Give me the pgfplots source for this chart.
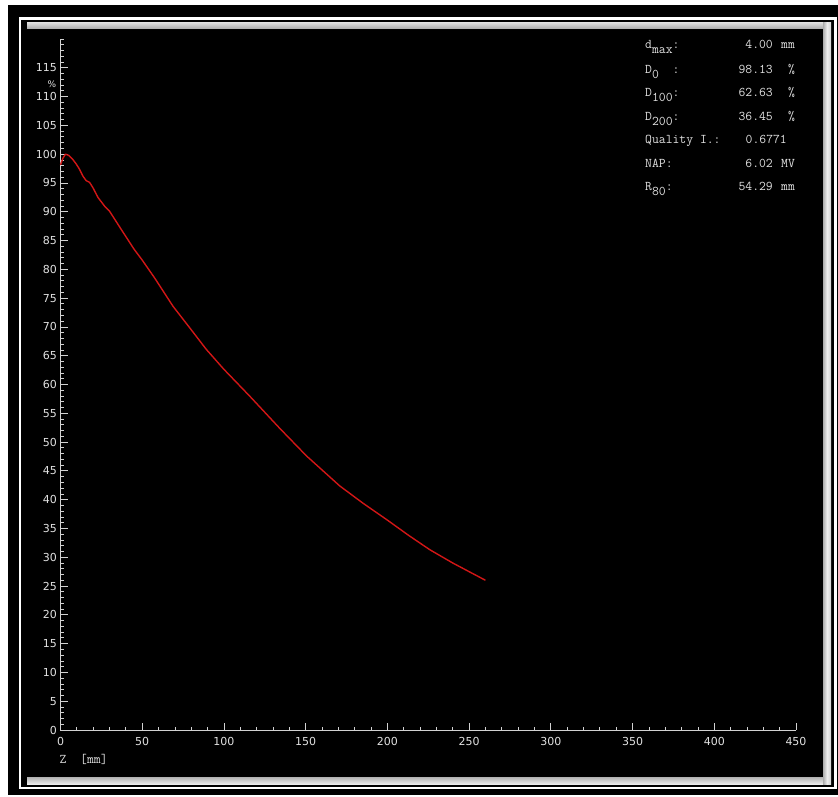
\documentclass[border=0pt]{standalone}
\usepackage{fontspec}
\usepackage{pgfplots}
\pgfplotsset{compat=1.18}
\newfontfamily\tickfont{DejaVu Sans}
\definecolor{txt}{RGB}{225,225,225}
\definecolor{ax}{RGB}{210,210,210}
\definecolor{curve}{RGB}{210,22,22}
\newcommand{\mono}{\ttfamily\fontsize{13.3}{15}\selectfont}
\begin{document}
\begin{tikzpicture}[x=1pt,y=1pt]
\useasboundingbox (0,0) rectangle (838,-797);
\fill[white] (0,0) rectangle (838,-797);
\fill[black] (8,-5) rectangle (838,-795);
\draw[white,line width=2.5pt] (20,-18.5) rectangle (835.5,-788);
\shade[top color=gray!30, bottom color=gray!65] (27,-23) rectangle (830,-28.5);
\shade[top color=gray!60, bottom color=gray!12] (27,-777) rectangle (823,-784.5);
\shade[left color=gray!65, right color=gray!35, middle color=gray!15] (823,-23) rectangle (831,-784.5);
\begin{axis}[
  at={(60.5pt,-730pt)}, anchor=south west,
  scale only axis, width=735.5pt, height=691pt,
  xmin=0, xmax=450, ymin=0, ymax=120,
  axis lines=left, axis line style={-, ax, line width=0.8pt},
  xtick={0,50,...,450}, ytick={0,5,...,115},
  minor xtick={0,10,...,450}, minor ytick={0,1,...,120},
  tick align=inside, major tick length=7pt, minor tick length=3.5pt,
  every tick/.style={ax, line width=0.8pt},
  ticklabel style={font=\tickfont\fontsize{11}{12}\selectfont, text=txt},
  /pgf/number format/assume math mode=true,
  xticklabel style={yshift=-4pt},
  clip=false,
]
\addplot[curve, line width=1.4pt, line join=round] coordinates {
(0,98.13) (1.5,99.3) (3,100) (5,99.8) (7.5,99.1) (9.6,98.3) (11.6,97.4)
(13.7,96.2) (15.7,95.4) (17.8,95.1) (19.8,94.2) (22.9,92.5) (26.9,91.0)
(30,90.1) (37,87.0) (45,83.5) (50,81.6) (57.6,78.5) (68.8,73.6) (80,69.5)
(89.2,66.1) (100,62.63) (115.7,58.0) (134.1,52.4) (150.5,47.6) (170.8,42.4)
(185,39.4) (200,36.45) (213,33.8) (226,31.3) (240,29.0) (250,27.5) (260,26.0)
};
\end{axis}
\node[anchor=center, txt, font=\tickfont\fontsize{9}{10}\selectfont] at (52,-84) {\%};
\node[anchor=base west, txt, inner sep=0pt, font=\mono] at (59.5,-763) {Z\ \ [mm]};
% info panel
\begin{scope}[every node/.style={txt, inner sep=0pt, font=\mono}]
\node[anchor=base west] at (645,-49) {d\raisebox{-5pt}{max}:};
\node[anchor=base west] at (645,-73.5) {D\raisebox{-5pt}{0}\ \ :};
\node[anchor=base west] at (645,-97) {D\raisebox{-5pt}{100}:};
\node[anchor=base west] at (645,-120.5) {D\raisebox{-5pt}{200}:};
\node[anchor=base west] at (645,-144) {Quality I.:};
\node[anchor=base west] at (645,-167.5) {NAP:};
\node[anchor=base west] at (645,-190.5) {R\raisebox{-5pt}{80}:};
\node[anchor=base east] at (773,-49) {4.00};
\node[anchor=base east] at (773,-73.5) {98.13};
\node[anchor=base east] at (773,-97) {62.63};
\node[anchor=base east] at (773,-120.5) {36.45};
\node[anchor=base east] at (787,-144) {0.6771};
\node[anchor=base east] at (773,-167.5) {6.02};
\node[anchor=base east] at (773,-190.5) {54.29};
\node[anchor=base west] at (781,-49) {mm};
\node[anchor=base west] at (788,-73.5) {\%};
\node[anchor=base west] at (788,-97) {\%};
\node[anchor=base west] at (788,-120.5) {\%};
\node[anchor=base west] at (781,-167.5) {MV};
\node[anchor=base west] at (781,-190.5) {mm};
\end{scope}
\end{tikzpicture}
\end{document}
